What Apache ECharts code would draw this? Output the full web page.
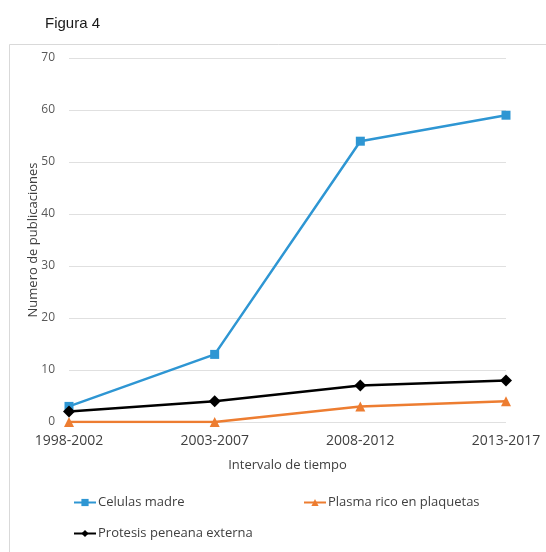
<!DOCTYPE html>
<html>
<head>
<meta charset="utf-8">
<script src="https://cdn.jsdelivr.net/npm/echarts@6/dist/echarts.min.js"></script>
<style>
  html, body { margin: 0; padding: 0; background: #fff; }
  #chart { width: 546px; height: 552px; }
</style>
</head>
<body>
<div id="chart"></div>
<script>
// Time intervals and publication counts per therapy
const intervals = ['1998-2002', '2003-2007', '2008-2012', '2013-2017'];
const celulasMadre = [3, 13, 54, 59];
const plasmaRico = [0, 0, 3, 4];
const protesisPeneana = [2, 4, 7, 8];
const yTicks = { min: 0, max: 70, interval: 10 };

const FONT = '"Open Sans", "Liberation Sans", sans-serif';
const chart = echarts.init(document.getElementById('chart'), null, { renderer: 'canvas' });

function lineSeries(name, data, color, symbol, size) {
  return {
    name: name,
    type: 'line',
    data: data,
    symbol: symbol,
    symbolSize: size,
    showAllSymbol: true,
    lineStyle: { color: color, width: 2.5 },
    itemStyle: { color: color },
    emphasis: { disabled: true },
    z: 3
  };
}

const legendBase = {
  orient: 'horizontal',
  itemWidth: 22,
  itemHeight: 9,
  itemGap: 4,
  textStyle: { fontFamily: FONT, fontSize: 13, color: '#404040', padding: [0, 0, 0, -3] },
  selectedMode: false
};

chart.setOption({
  animation: false,
  backgroundColor: '#fff',
  title: {
    text: 'Figura 4',
    left: 40,
    top: 11,
    textStyle: { fontFamily: '"Liberation Sans", Arial, sans-serif', fontSize: 15, fontWeight: 'normal', color: '#1a1a1a' }
  },
  graphic: [{
    type: 'rect',
    shape: { x: 9.5, y: 44.5, width: 560, height: 540 },
    style: { fill: 'none', stroke: '#d9d9d9', lineWidth: 1 },
    silent: true,
    z: -1
  }],
  grid: { left: 69, right: 40, top: 58, bottom: 130, containLabel: false },
  xAxis: {
    type: 'category',
    data: intervals,
    boundaryGap: false,
    name: 'Intervalo de tiempo',
    nameLocation: 'middle',
    nameGap: 37,
    nameTextStyle: { fontFamily: FONT, fontSize: 13, color: '#404040' },
    axisLine: { show: false },
    axisTick: { show: false },
    axisLabel: { fontFamily: FONT, fontSize: 14, color: '#404040', margin: 12 }
  },
  yAxis: {
    type: 'value',
    min: yTicks.min,
    max: yTicks.max,
    interval: yTicks.interval,
    name: 'Numero de publicaciones',
    nameLocation: 'middle',
    nameGap: 29,
    nameMoveOverlap: false,
    nameTextStyle: { fontFamily: FONT, fontSize: 13, color: '#404040' },
    axisLine: { show: false },
    axisTick: { show: false },
    axisLabel: { fontFamily: FONT, fontSize: 12, color: '#595959', margin: 14 },
    splitLine: { lineStyle: { color: '#e0e0e0', width: 1 } }
  },
  legend: [
    Object.assign({}, legendBase, { data: ['Celulas madre'], left: 68, top: 491 }),
    Object.assign({}, legendBase, { data: ['Plasma rico en plaquetas'], left: 298, top: 491 }),
    Object.assign({}, legendBase, { data: ['Protesis peneana externa'], left: 68, top: 522 })
  ],
  series: [
    lineSeries('Celulas madre', celulasMadre, '#2E96D3', 'rect', 9),
    lineSeries('Plasma rico en plaquetas', plasmaRico, '#ED7D31', 'triangle', 10),
    lineSeries('Protesis peneana externa', protesisPeneana, '#000000', 'diamond', 12)
  ]
});
</script>
</body>
</html>
